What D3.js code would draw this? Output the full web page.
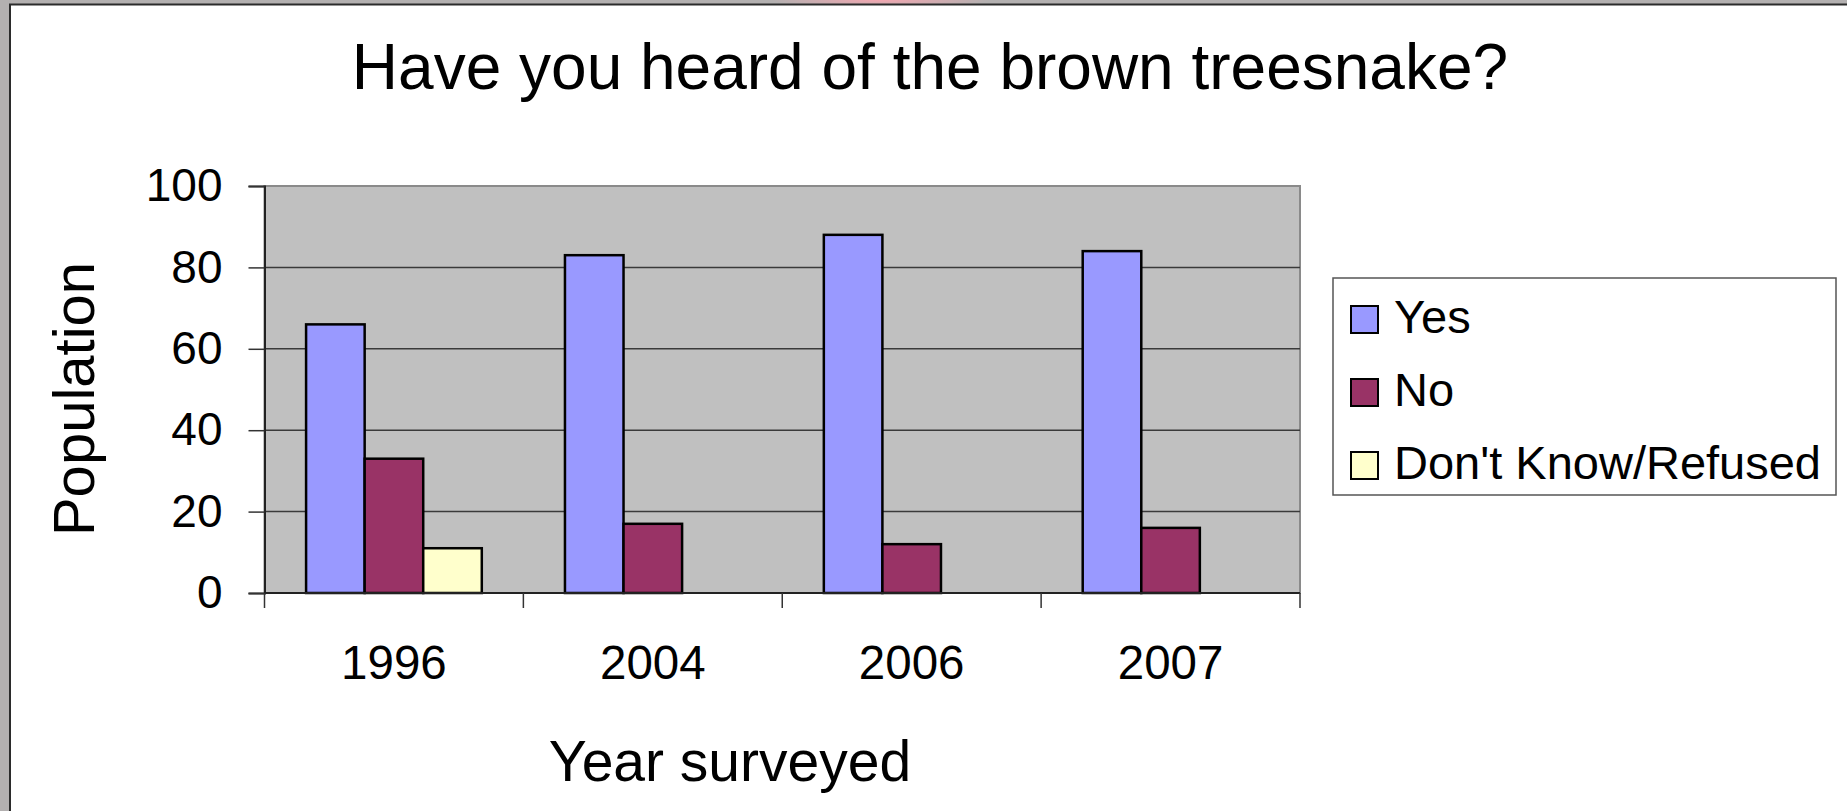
<!DOCTYPE html>
<html>
<head>
<meta charset="utf-8">
<script src="https://cdn.jsdelivr.net/npm/d3@7"></script>
<style>
  body { margin: 0; background: #b3b0b0; }
  svg { display: block; font-family: "Liberation Sans", Arial, sans-serif; }
</style>
</head>
<body>
<div id="chart-area"></div>
<script>
// DATA
var years = ["1996", "2004", "2006", "2007"];
var series = ["Yes", "No", "Don't Know/Refused"];
var yesValues = [66, 83, 88, 84];
var noValues = [33, 17, 12, 16];
var dkValues = [11, 0, 0, 0];
var yTicks = [0, 20, 40, 60, 80, 100];
var colors = ["#9999ff", "#993366", "#ffffcc"];

var W = 1847, H = 811;

// plot area
var plot = { left: 264.5, right: 1300, top: 186, bottom: 593 };

var svg = d3.select("#chart-area").append("svg")
    .attr("width", W)
    .attr("height", H);

// window frame
svg.append("rect").attr("width", W).attr("height", H).attr("fill", "#b3b0b0");
var defs = svg.append("defs");
var grad = defs.append("radialGradient").attr("id", "pink");
grad.append("stop").attr("offset", "0%").attr("stop-color", "#f4a6b0");
grad.append("stop").attr("offset", "100%").attr("stop-color", "#b3b0b0");
svg.append("ellipse")
    .attr("cx", 880).attr("cy", 0).attr("rx", 110).attr("ry", 8)
    .attr("fill", "url(#pink)");
svg.append("rect").attr("x", 9).attr("y", 3.5).attr("width", W).attr("height", H)
    .attr("fill", "#2b2b2b");
svg.append("rect").attr("x", 11).attr("y", 5.5).attr("width", W).attr("height", H)
    .attr("fill", "#ffffff");

// Scales
var x0 = d3.scaleBand().domain(years).range([plot.left, plot.right]).padding(0);
var x1 = d3.scaleBand().domain(series).range([0, x0.bandwidth()])
    .paddingInner(0).paddingOuter(0.71);
var y = d3.scaleLinear().domain([0, 100]).range([plot.bottom, plot.top]);

var rows = years.map(function(yr, i) {
    return { year: yr, values: [yesValues[i], noValues[i], dkValues[i]] };
});

// plot background
svg.append("rect")
    .attr("x", plot.left).attr("y", plot.top)
    .attr("width", plot.right - plot.left)
    .attr("height", plot.bottom - plot.top)
    .attr("fill", "#c0c0c0")
    .attr("stroke", "#8a8a8a")
    .attr("stroke-width", 2);

// gridlines
svg.append("g")
    .selectAll("line")
    .data(yTicks.filter(function(d) { return d > 0 && d < 100; }))
    .join("line")
    .attr("x1", plot.left).attr("x2", plot.right)
    .attr("y1", function(d) { return y(d); })
    .attr("y2", function(d) { return y(d); })
    .attr("stroke", "#3a3a3a")
    .attr("stroke-width", 1.5);

// bars
var groups = svg.append("g")
    .selectAll("g")
    .data(rows)
    .join("g")
    .attr("transform", function(d) { return "translate(" + x0(d.year) + ",0)"; });

groups.selectAll("rect")
    .data(function(d) {
        return d.values.map(function(v, j) { return { key: series[j], value: v, idx: j }; })
            .filter(function(b) { return b.value > 0; });
    })
    .join("rect")
    .attr("x", function(d) { return x1(d.key); })
    .attr("y", function(d) { return y(d.value); })
    .attr("width", x1.bandwidth())
    .attr("height", function(d) { return y(0) - y(d.value); })
    .attr("fill", function(d) { return colors[d.idx]; })
    .attr("stroke", "#000")
    .attr("stroke-width", 2.5);

// Y axis
var yAxis = svg.append("g")
    .attr("transform", "translate(" + plot.left + ",0)")
    .call(d3.axisLeft(y).tickValues(yTicks).tickSize(16).tickPadding(26));
yAxis.select(".domain").attr("stroke", "#222").attr("stroke-width", 2);
yAxis.selectAll(".tick line").attr("stroke", "#333").attr("stroke-width", 1.5);
yAxis.selectAll(".tick text")
    .attr("font-size", 46)
    .attr("fill", "#000")
    .attr("font-family", "Liberation Sans, Arial, sans-serif");

// X axis: boundary ticks
var boundaries = years.map(function(d) { return x0(d); }).concat([x0.range()[1]]);
svg.append("line")
    .attr("x1", plot.left).attr("x2", plot.right)
    .attr("y1", plot.bottom).attr("y2", plot.bottom)
    .attr("stroke", "#222").attr("stroke-width", 2);
svg.append("g")
    .selectAll("line")
    .data(boundaries)
    .join("line")
    .attr("x1", function(d) { return d; }).attr("x2", function(d) { return d; })
    .attr("y1", plot.bottom).attr("y2", plot.bottom + 15)
    .attr("stroke", "#333").attr("stroke-width", 1.5);

var xAxis = svg.append("g")
    .attr("transform", "translate(0," + plot.bottom + ")")
    .call(d3.axisBottom(x0).tickSize(0).tickPadding(0));
xAxis.select(".domain").remove();
xAxis.selectAll(".tick text")
    .attr("y", 86)
    .attr("dy", 0)
    .attr("font-size", 47.5)
    .attr("fill", "#000")
    .attr("font-family", "Liberation Sans, Arial, sans-serif");

// Title
svg.append("text")
    .attr("x", 930).attr("y", 89)
    .attr("text-anchor", "middle")
    .attr("font-size", 64)
    .text("Have you heard of the brown treesnake?");

// Axis titles
svg.append("text")
    .attr("x", 730).attr("y", 781)
    .attr("text-anchor", "middle")
    .attr("font-size", 57)
    .text("Year surveyed");

svg.append("text")
    .attr("transform", "translate(94,399) rotate(-90)")
    .attr("text-anchor", "middle")
    .attr("font-size", 58)
    .text("Population");

// Legend
var legend = svg.append("g");
legend.append("rect")
    .attr("x", 1333).attr("y", 278)
    .attr("width", 503).attr("height", 217)
    .attr("fill", "#fff")
    .attr("stroke", "#555")
    .attr("stroke-width", 1.5);

var items = legend.selectAll("g")
    .data(series)
    .join("g")
    .attr("transform", function(d, i) { return "translate(1351," + (333 + i * 73) + ")"; });
items.append("rect")
    .attr("x", 0).attr("y", -27)
    .attr("width", 27).attr("height", 27)
    .attr("fill", function(d, i) { return colors[i]; })
    .attr("stroke", "#000")
    .attr("stroke-width", 2);
items.append("text")
    .attr("x", 43).attr("y", 0)
    .attr("font-size", 47)
    .text(function(d) { return d; });
</script>
</body>
</html>
